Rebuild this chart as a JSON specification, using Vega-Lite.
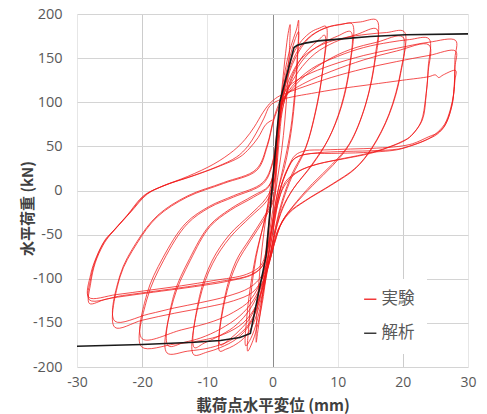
{
"$schema": "https://vega.github.io/schema/vega-lite/v6.json",
"width": 391, "height": 353,
"autosize": "none",
"padding": {"left": 77, "top": 14, "right": 19, "bottom": 47},
"background": "white",
"config": {"view": {"stroke": null}, "font": "Open Sans"},
"datasets": {
"exp": [
{"x":0,"y":0},{"x":0.5,"y":45},{"x":1,"y":80},{"x":1.5,"y":105},{"x":1.2,"y":85},{"x":0.5,"y":40},{"x":0,"y":5},{"x":-0.5,"y":-40},{"x":-1,"y":-75},{"x":-1.5,"y":-100},{"x":-1.2,"y":-80},{"x":-0.6,"y":-40},{"x":0,"y":0},
{"x":0.5,"y":45},{"x":1,"y":85},{"x":1.5,"y":120},{"x":2,"y":155},{"x":2.4,"y":178},{"x":2.7,"y":188},{"x":2.6,"y":160},{"x":2.3,"y":120},{"x":1.9,"y":80},{"x":1.4,"y":45},{"x":0.8,"y":15},{"x":0.2,"y":-15},{"x":-0.4,"y":-45},{"x":-0.9,"y":-80},{"x":-1.4,"y":-110},{"x":-1.9,"y":-140},{"x":-2.3,"y":-162},{"x":-2.5,"y":-172},{"x":-2.4,"y":-140},{"x":-2.1,"y":-105},{"x":-1.6,"y":-65},{"x":-1,"y":-30},{"x":-0.4,"y":0},
{"x":0.2,"y":25},{"x":0.7,"y":60},{"x":1.2,"y":95},{"x":1.8,"y":130},{"x":2.5,"y":155},{"x":3.2,"y":172},{"x":3.7,"y":183},{"x":4,"y":193},{"x":3.9,"y":160},{"x":3.6,"y":120},{"x":3.1,"y":80},{"x":2.5,"y":50},{"x":1.8,"y":25},{"x":1,"y":5},{"x":0.3,"y":-20},{"x":-0.3,"y":-50},{"x":-0.8,"y":-85},{"x":-1.4,"y":-120},{"x":-2.2,"y":-150},{"x":-3,"y":-170},{"x":-3.8,"y":-182},{"x":-3.6,"y":-150},{"x":-3.2,"y":-110},{"x":-2.5,"y":-75},{"x":-1.6,"y":-45},{"x":-0.8,"y":-20},{"x":-0.2,"y":0},
{"x":0.5,"y":40},{"x":1.2,"y":90},{"x":2,"y":130},{"x":2.8,"y":155},{"x":3.5,"y":172},{"x":4,"y":180},{"x":3.8,"y":150},{"x":3.4,"y":110},{"x":2.8,"y":70},{"x":2,"y":38},{"x":1.2,"y":12},{"x":0.4,"y":-18},{"x":-0.3,"y":-55},{"x":-1,"y":-95},{"x":-1.8,"y":-130},{"x":-2.8,"y":-158},{"x":-3.5,"y":-170},{"x":-4.1,"y":-176},{"x":-3.9,"y":-140},{"x":-3.2,"y":-100},{"x":-2.4,"y":-68},{"x":-1.4,"y":-40},{"x":-0.5,"y":-15},{"x":0,"y":0},
{"x":0.4,"y":30},{"x":0.9,"y":70},{"x":1.4,"y":100},{"x":2.2,"y":130},{"x":3.2,"y":155},{"x":4.5,"y":170},{"x":6,"y":180},{"x":7.2,"y":184},{"x":8.2,"y":186},{"x":7.7,"y":136},{"x":6.6,"y":90},{"x":5.1,"y":49},{"x":3,"y":19},{"x":1.5,"y":-11},{"x":0.5,"y":-40},{"x":-0.3,"y":-70},{"x":-1,"y":-100},{"x":-2,"y":-130},{"x":-3.2,"y":-155},{"x":-4.5,"y":-168},{"x":-6,"y":-176},{"x":-7.2,"y":-180},{"x":-8.1,"y":-182},{"x":-7.3,"y":-124},{"x":-5.5,"y":-83},{"x":-3.4,"y":-57},{"x":-1.4,"y":-34},{"x":0.2,"y":-11},
{"x":0.6,"y":20},{"x":1,"y":55},{"x":1.5,"y":90},{"x":2.5,"y":120},{"x":4,"y":145},{"x":5.5,"y":160},{"x":7,"y":170},{"x":8,"y":176},{"x":7.6,"y":130},{"x":6.5,"y":85},{"x":5,"y":46},{"x":3,"y":16},{"x":1.6,"y":-12},{"x":0.5,"y":-42},{"x":-0.4,"y":-75},{"x":-1.1,"y":-100},{"x":-2.2,"y":-125},{"x":-3.5,"y":-145},{"x":-5,"y":-158},{"x":-6.5,"y":-168},{"x":-8,"y":-175},{"x":-7.3,"y":-120},{"x":-5.6,"y":-80},{"x":-3.5,"y":-55},{"x":-1.5,"y":-32},{"x":0.1,"y":-10},
{"x":0.5,"y":30},{"x":1,"y":70},{"x":1.5,"y":100},{"x":2.5,"y":135},{"x":4,"y":160},{"x":6,"y":176},{"x":8.5,"y":185},{"x":10.5,"y":188},{"x":12.2,"y":189},{"x":12,"y":147},{"x":10.7,"y":98},{"x":8.7,"y":60},{"x":6.1,"y":30},{"x":3,"y":0},{"x":1.5,"y":-20},{"x":0.5,"y":-45},{"x":-0.4,"y":-75},{"x":-1.2,"y":-100},{"x":-2.2,"y":-130},{"x":-3.5,"y":-152},{"x":-5.5,"y":-168},{"x":-8,"y":-178},{"x":-10,"y":-183},{"x":-12.1,"y":-186},{"x":-11.2,"y":-124},{"x":-9.2,"y":-83},{"x":-6.5,"y":-53},{"x":-3.4,"y":-30},{"x":-0.8,"y":-11},{"x":0.3,"y":10},
{"x":0.8,"y":50},{"x":1.3,"y":85},{"x":2.2,"y":110},{"x":3.5,"y":135},{"x":5.5,"y":155},{"x":8,"y":168},{"x":10,"y":175},{"x":12,"y":180},{"x":11.8,"y":140},{"x":10.5,"y":95},{"x":8.5,"y":57},{"x":6,"y":28},{"x":3.2,"y":2},{"x":1.6,"y":-20},{"x":0.5,"y":-45},{"x":-0.5,"y":-78},{"x":-1.3,"y":-100},{"x":-2.5,"y":-122},{"x":-4,"y":-140},{"x":-6,"y":-155},{"x":-8.5,"y":-166},{"x":-10.5,"y":-173},{"x":-12,"y":-178},{"x":-11.2,"y":-120},{"x":-9.3,"y":-80},{"x":-6.6,"y":-50},{"x":-3.5,"y":-28},{"x":-1,"y":-9},{"x":0.3,"y":12},
{"x":0.8,"y":55},{"x":1.2,"y":90},{"x":2,"y":120},{"x":3.5,"y":150},{"x":5.5,"y":172},{"x":8,"y":184},{"x":11,"y":189},{"x":13.5,"y":191},{"x":16,"y":193},{"x":15.8,"y":154},{"x":14.3,"y":98},{"x":11.8,"y":53},{"x":9.2,"y":30},{"x":6.1,"y":7.5},{"x":3,"y":-19},{"x":1.5,"y":-35},{"x":0.3,"y":-60},{"x":-0.6,"y":-85},{"x":-1.4,"y":-105},{"x":-2.5,"y":-135},{"x":-4,"y":-155},{"x":-6.5,"y":-170},{"x":-9.5,"y":-178},{"x":-13,"y":-182},{"x":-16.2,"y":-184},{"x":-15.2,"y":-124},{"x":-12.6,"y":-79},{"x":-9.6,"y":-41},{"x":-6.5,"y":-22.6},{"x":-2.9,"y":-7.5},{"x":-0.6,"y":4},{"x":0.3,"y":25},
{"x":0.8,"y":60},{"x":1.3,"y":92},{"x":2.2,"y":112},{"x":4,"y":135},{"x":6.5,"y":155},{"x":9.5,"y":168},{"x":13,"y":177},{"x":16,"y":183},{"x":15.7,"y":145},{"x":14.2,"y":95},{"x":11.8,"y":52},{"x":9.2,"y":28},{"x":6.2,"y":6},{"x":3.2,"y":-18},{"x":1.5,"y":-35},{"x":0.3,"y":-60},{"x":-0.6,"y":-85},{"x":-1.5,"y":-103},{"x":-3,"y":-125},{"x":-5,"y":-142},{"x":-8,"y":-157},{"x":-11,"y":-167},{"x":-13.5,"y":-172},{"x":-16,"y":-176},{"x":-15.2,"y":-120},{"x":-12.7,"y":-77},{"x":-9.7,"y":-40},{"x":-6.5,"y":-21},{"x":-3,"y":-6},{"x":-0.6,"y":5},{"x":0.3,"y":25},
{"x":0.9,"y":70},{"x":1.5,"y":100},{"x":2.5,"y":125},{"x":4.5,"y":150},{"x":7.5,"y":165},{"x":11,"y":173},{"x":14.5,"y":177},{"x":17.5,"y":179},{"x":20.2,"y":180},{"x":19.7,"y":136},{"x":17.9,"y":87},{"x":15.3,"y":49},{"x":12.8,"y":26},{"x":9.2,"y":7.5},{"x":5.1,"y":-11},{"x":2.5,"y":-25},{"x":0.8,"y":-45},{"x":-0.3,"y":-75},{"x":-1.3,"y":-100},{"x":-2.5,"y":-130},{"x":-4.5,"y":-150},{"x":-7.5,"y":-163},{"x":-11,"y":-170},{"x":-15,"y":-174},{"x":-20.1,"y":-177},{"x":-19.3,"y":-124},{"x":-16.7,"y":-79},{"x":-13.1,"y":-38},{"x":-9.6,"y":-19},{"x":-6,"y":-7.5},{"x":-1.4,"y":8},{"x":0,"y":30},
{"x":0.8,"y":70},{"x":1.4,"y":97},{"x":2.4,"y":110},{"x":5,"y":130},{"x":8.5,"y":148},{"x":12,"y":160},{"x":16,"y":168},{"x":20,"y":174},{"x":19.6,"y":130},{"x":17.8,"y":84},{"x":15.2,"y":47},{"x":12.6,"y":24},{"x":9,"y":6},{"x":5,"y":-12},{"x":2.5,"y":-26},{"x":0.8,"y":-46},{"x":-0.3,"y":-76},{"x":-1.4,"y":-97},{"x":-3.4,"y":-124},{"x":-6,"y":-138},{"x":-9,"y":-148},{"x":-14,"y":-158},{"x":-20,"y":-168},{"x":-19.3,"y":-118},{"x":-16.8,"y":-76},{"x":-13.3,"y":-37},{"x":-9.7,"y":-18},{"x":-6,"y":-6},{"x":-1.5,"y":9},{"x":0,"y":32},
{"x":0.9,"y":80},{"x":1.6,"y":100},{"x":3,"y":118},{"x":6,"y":138},{"x":10,"y":152},{"x":14,"y":162},{"x":18,"y":168},{"x":21,"y":171},{"x":24,"y":172},{"x":23.9,"y":140},{"x":23.6,"y":110},{"x":23,"y":80},{"x":21.5,"y":64},{"x":20.4,"y":57},{"x":17.5,"y":48},{"x":15,"y":42},{"x":11,"y":36},{"x":7,"y":30},{"x":4,"y":22},{"x":2,"y":10},{"x":1,"y":-10},{"x":0.2,"y":-40},{"x":-0.5,"y":-70},{"x":-1.5,"y":-98},{"x":-3,"y":-115},{"x":-6,"y":-125},{"x":-10,"y":-132},{"x":-15,"y":-139},{"x":-20,"y":-147},{"x":-24.2,"y":-155},{"x":-23.4,"y":-98},{"x":-20.8,"y":-60},{"x":-17.7,"y":-30},{"x":-13.1,"y":-7.5},{"x":-7.5,"y":8},{"x":-2.4,"y":23},{"x":-0.8,"y":50},{"x":0.2,"y":80},
{"x":1,"y":95},{"x":2,"y":108},{"x":5,"y":122},{"x":9,"y":135},{"x":14,"y":148},{"x":19,"y":158},{"x":24,"y":165},{"x":23.9,"y":135},{"x":23.5,"y":105},{"x":22.8,"y":78},{"x":21.3,"y":62},{"x":20,"y":56},{"x":17,"y":47},{"x":14,"y":41},{"x":10,"y":35},{"x":6,"y":28},{"x":3.5,"y":19},{"x":1.8,"y":5},{"x":0.8,"y":-15},{"x":0.1,"y":-45},{"x":-0.6,"y":-72},{"x":-1.6,"y":-96},{"x":-3.5,"y":-110},{"x":-7,"y":-120},{"x":-11,"y":-127},{"x":-15,"y":-133},{"x":-19,"y":-140},{"x":-24.2,"y":-148},{"x":-23.4,"y":-96},{"x":-20.8,"y":-58},{"x":-17.6,"y":-28},{"x":-13,"y":-6},{"x":-7.5,"y":9},{"x":-2.5,"y":24},{"x":-0.8,"y":52},{"x":0.2,"y":82},
{"x":1.1,"y":100},{"x":2.5,"y":118},{"x":5,"y":130},{"x":9,"y":142},{"x":14,"y":153},{"x":19,"y":161},{"x":24,"y":168},{"x":28.1,"y":170},{"x":28,"y":150},{"x":27.9,"y":120},{"x":27.6,"y":99},{"x":26.6,"y":76},{"x":25.5,"y":66},{"x":24,"y":61},{"x":21.5,"y":53},{"x":19.4,"y":50},{"x":16,"y":48},{"x":12,"y":47},{"x":8,"y":46},{"x":5,"y":45},{"x":3.5,"y":40},{"x":2.5,"y":28},{"x":1.6,"y":12},{"x":0.8,"y":-10},{"x":0,"y":-40},{"x":-0.7,"y":-65},{"x":-1.5,"y":-85},{"x":-3,"y":-95},{"x":-7,"y":-103},{"x":-12,"y":-109},{"x":-17,"y":-114},{"x":-22,"y":-119},{"x":-25.5,"y":-123},{"x":-28.1,"y":-128},{"x":-27.9,"y":-105},{"x":-27.2,"y":-82},{"x":-26,"y":-62},{"x":-24.9,"y":-50},{"x":-22.3,"y":-28},{"x":-19.8,"y":-6},{"x":-17.2,"y":4},{"x":-13,"y":16},{"x":-9,"y":30},{"x":-6,"y":45},{"x":-4.2,"y":58},{"x":-2.8,"y":72},{"x":-1.5,"y":88},{"x":-0.5,"y":98},{"x":0.8,"y":106},
{"x":2,"y":110},{"x":5,"y":118},{"x":9,"y":128},{"x":14,"y":138},{"x":19,"y":146},{"x":24,"y":153},{"x":28.1,"y":158},{"x":28,"y":140},{"x":27.9,"y":118},{"x":27.5,"y":95},{"x":26.5,"y":74},{"x":25.3,"y":64},{"x":23.8,"y":58},{"x":21.3,"y":51},{"x":19.3,"y":47},{"x":15,"y":45},{"x":10,"y":44},{"x":6,"y":42},{"x":3.5,"y":37},{"x":2.4,"y":25},{"x":1.5,"y":8},{"x":0.7,"y":-15},{"x":0,"y":-42},{"x":-0.8,"y":-68},{"x":-1.6,"y":-86},{"x":-3.5,"y":-96},{"x":-8,"y":-103},{"x":-13,"y":-109},{"x":-18,"y":-114},{"x":-23,"y":-119},{"x":-28.1,"y":-124},{"x":-27.9,"y":-100},{"x":-27.1,"y":-78},{"x":-25.8,"y":-58},{"x":-24.5,"y":-47},{"x":-22,"y":-26},{"x":-19.5,"y":-5},{"x":-16.8,"y":5},{"x":-12.5,"y":16},{"x":-8.5,"y":27},{"x":-5.5,"y":38},{"x":-3.8,"y":50},{"x":-2.5,"y":65},{"x":-1.3,"y":82},{"x":-0.4,"y":96},{"x":0.9,"y":102},
{"x":3,"y":106},{"x":6,"y":110},{"x":10,"y":115},{"x":15,"y":120},{"x":20,"y":125},{"x":24,"y":129},{"x":25,"y":131},{"x":25.5,"y":128},{"x":26.2,"y":131},{"x":28.1,"y":136},{"x":28,"y":125},{"x":27.8,"y":110},{"x":27.3,"y":92},{"x":26.4,"y":75},{"x":25,"y":64},{"x":23.5,"y":57},{"x":21,"y":50},{"x":19,"y":46},{"x":14,"y":43},{"x":9,"y":42},{"x":5,"y":41},{"x":3.2,"y":35},{"x":2.2,"y":22},{"x":1.3,"y":5},{"x":0.5,"y":-18},{"x":-0.2,"y":-45},{"x":-1,"y":-70},{"x":-1.8,"y":-85},{"x":-4,"y":-95},{"x":-9,"y":-102},{"x":-14,"y":-108},{"x":-19,"y":-113},{"x":-24,"y":-118},{"x":-28.2,"y":-121},{"x":-27.9,"y":-95},{"x":-27,"y":-75},{"x":-25.6,"y":-55},{"x":-24.2,"y":-44},{"x":-21.7,"y":-24},{"x":-19.2,"y":-4},{"x":-16.5,"y":6},{"x":-12,"y":17},{"x":-8,"y":28},{"x":-5,"y":38},{"x":-3.5,"y":48},{"x":-2.2,"y":60},{"x":-1,"y":75},{"x":0,"y":80}
],
"ana": [
{"x":-30,"y":-176.5},{"x":-20,"y":-174.5},{"x":-12,"y":-172},{"x":-8,"y":-170},{"x":-5,"y":-166.5},{"x":-3.4,"y":-162},{"x":-1,"y":-75},{"x":1.1,"y":100},{"x":3.3,"y":162},{"x":3.8,"y":164.5},{"x":5,"y":167},{"x":7,"y":169.5},{"x":10.2,"y":171.5},{"x":15,"y":174.5},{"x":20.4,"y":176.5},{"x":30,"y":177.5}
]
},
"encoding": {
"x": {"field": "x", "type": "quantitative",
  "scale": {"domain": [-30, 30], "nice": false, "zero": false},
  "axis": {"values": [-30,-20,-10,0,10,20,30], "title": "載荷点水平変位 (mm)", "domain": false, "ticks": false,
    "labelExpr": "'' + datum.value",
    "labelFontSize": 14, "labelColor": "#595959", "labelPadding": 8, "labelFlush": false,
    "titleFont": "Noto Sans CJK JP", "titleFontWeight": "bold", "titleFontSize": 15.5, "titleColor": "#404040",
    "titleY": 38, "titleBaseline": "middle",
    "gridColor": {"condition": [{"test": "datum.value === 0", "value": "#8c8c8c"}, {"test": "abs(datum.value) === 20", "value": "#cccccc"}], "value": "#e6e6e6"}}},
"y": {"field": "y", "type": "quantitative",
  "scale": {"domain": [-200, 200], "nice": false},
  "axis": {"values": [-200,-150,-100,-50,0,50,100,150,200], "title": "水平荷重 (kN)", "domain": false, "ticks": false,
    "labelExpr": "'' + datum.value",
    "labelFontSize": 14.5, "labelColor": "#595959", "labelPadding": 15,
    "titleFont": "Noto Sans CJK JP", "titleFontWeight": "bold", "titleFontSize": 15, "titleColor": "#404040",
    "titleX": -50, "titleY": 194, "titleBaseline": "middle", "titleAlign": "center",
    "gridColor": "#d4d4d4"}},
"order": {"value": null}
},
"layer": [
{"data": {"name": "exp"},
 "mark": {"type": "line", "strokeWidth": 0.9, "opacity": 0.85, "interpolate": "catmull-rom"},
 "encoding": {"color": {"datum": "実験", "type": "nominal",
   "scale": {"domain": ["実験", "解析"], "range": ["#f01818", "#1a1a1a"]},
   "legend": {"title": null, "orient": "none", "legendX": 263, "legendY": 265, "symbolType": "stroke", "symbolSize": 150, "symbolStrokeWidth": 1.5,
     "labelFontSize": 16.5, "labelFont": "Noto Sans CJK JP", "labelColor": "#595959", "fillColor": "white", "padding": 12, "rowPadding": 17, "symbolOffset": 10, "labelOffset": 3}}}},
{"data": {"name": "ana"},
 "mark": {"type": "line", "strokeWidth": 1.6},
 "encoding": {"color": {"datum": "解析", "type": "nominal"}}}
]
}
